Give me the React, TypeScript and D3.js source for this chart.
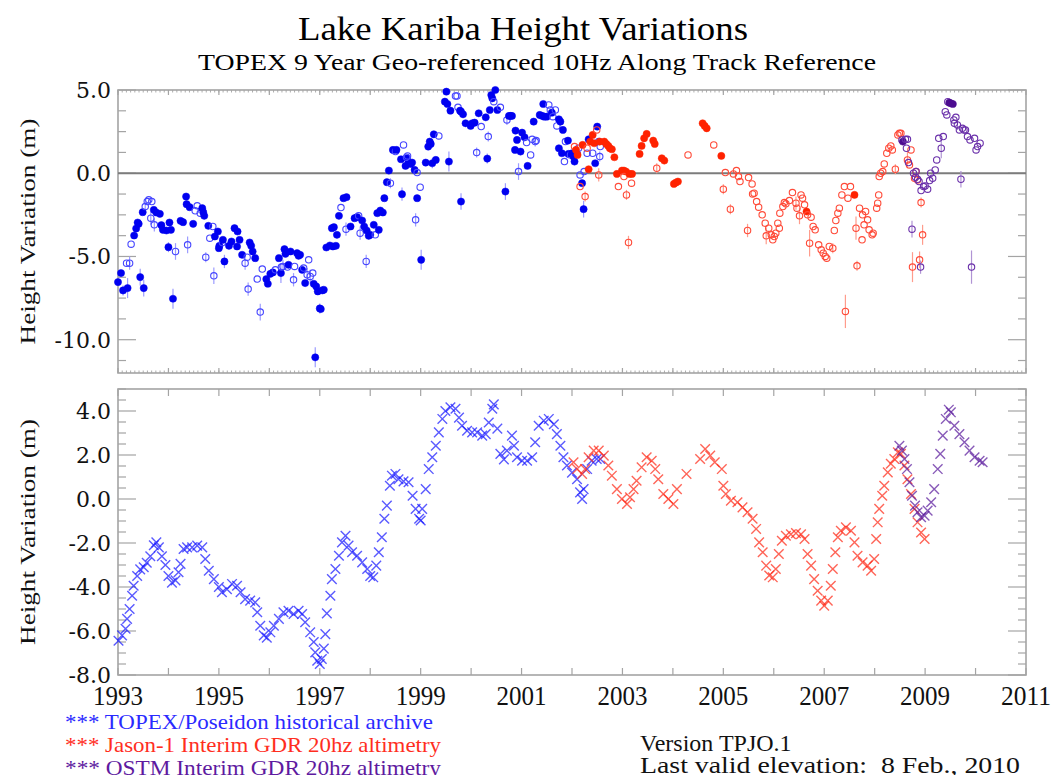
import React, { useRef, useEffect } from 'react';
import * as d3 from 'd3';

// [decimal year, height (m), filled (1) / open (0), error half-length (m)]
type Obs = [number, number, number, number];

const topexObs: Obs[] = [
  [1993.0, -6.54, 1, 0], [1993.06, -6.0, 1, 0], [1993.1, -7.04, 1, 0.3], [1993.19, -6.9, 1, 0.6],
  [1993.17, -5.4, 0, 0], [1993.23, -5.4, 0, 0.4], [1993.26, -4.26, 0, 0], [1993.32, -3.74, 1, 0],
  [1993.36, -3.32, 1, 0], [1993.39, -2.96, 1, 0], [1993.41, -3.04, 1, 0], [1993.44, -6.24, 1, 0.5],
  [1993.49, -2.34, 1, 0], [1993.51, -6.9, 1, 0.5], [1993.54, -2.0, 0, 0.3], [1993.58, -1.7, 0, 0],
  [1993.61, -1.6, 0, 0], [1993.67, -1.7, 0, 0], [1993.65, -2.7, 0, 0.4], [1993.72, -3.1, 0, 0.4],
  [1993.71, -2.2, 1, 0], [1993.76, -2.36, 1, 0], [1993.83, -2.44, 1, 0], [1993.86, -3.12, 1, 0],
  [1993.89, -3.4, 1, 0], [1993.96, -3.44, 1, 0], [1994.0, -4.44, 1, 0.3], [1994.02, -2.96, 1, 0],
  [1994.05, -3.4, 1, 0], [1994.09, -7.54, 1, 0.6], [1994.14, -4.7, 0, 0.5], [1994.24, -2.86, 1, 0],
  [1994.29, -2.94, 1, 0], [1994.35, -1.4, 1, 0], [1994.36, -1.86, 1, 0], [1994.38, -4.3, 0, 0.5],
  [1994.42, -2.04, 1, 0], [1994.49, -3.04, 1, 0], [1994.57, -1.96, 0, 0], [1994.53, -2.26, 0, 0],
  [1994.63, -2.4, 0, 0], [1994.67, -2.1, 1, 0], [1994.69, -2.34, 1, 0], [1994.71, -2.56, 1, 0],
  [1994.74, -5.04, 0, 0.3], [1994.79, -3.16, 1, 0], [1994.82, -3.9, 0, 0], [1994.88, -3.2, 0, 0],
  [1994.9, -6.16, 0, 0.5], [1994.92, -3.8, 1, 0], [1994.98, -3.5, 1, 0], [1995.0, -4.5, 1, 0],
  [1995.01, -4.36, 1, 0], [1995.07, -4.16, 0, 0], [1995.08, -4.0, 1, 0], [1995.11, -5.3, 1, 0.4],
  [1995.2, -4.36, 1, 0], [1995.25, -4.1, 1, 0], [1995.31, -3.3, 1, 0], [1995.37, -3.5, 1, 0],
  [1995.36, -4.4, 1, 0], [1995.41, -4.0, 1, 0], [1995.46, -4.9, 1, 0], [1995.52, -5.4, 0, 0.4],
  [1995.56, -5.04, 0, 0], [1995.58, -6.96, 0, 0.4], [1995.61, -4.16, 1, 0], [1995.64, -4.36, 1, 0],
  [1995.67, -4.7, 1, 0], [1995.72, -5.1, 1, 0], [1995.76, -6.36, 0, 0], [1995.82, -8.34, 0, 0.5],
  [1995.86, -5.76, 0, 0], [1995.94, -6.36, 1, 0], [1995.97, -6.64, 1, 0], [1996.02, -6.04, 1, 0],
  [1996.07, -5.96, 1, 0], [1996.12, -5.8, 0, 0], [1996.19, -5.1, 1, 0], [1996.23, -6.0, 1, 0.6],
  [1996.24, -5.64, 0, 0], [1996.27, -5.6, 0, 0.4], [1996.3, -4.56, 1, 0], [1996.32, -4.84, 1, 0],
  [1996.36, -5.64, 0, 0], [1996.38, -5.5, 1, 0], [1996.42, -4.7, 1, 0], [1996.48, -6.4, 0, 0.4],
  [1996.5, -5.6, 0, 0], [1996.55, -4.8, 1, 0], [1996.58, -4.96, 1, 0], [1996.61, -4.9, 1, 0],
  [1996.65, -5.8, 1, 0], [1996.68, -5.7, 0, 0], [1996.71, -6.6, 1, 0], [1996.75, -6.1, 0, 0.4],
  [1996.78, -5.2, 0, 0], [1996.81, -6.2, 0, 0.4], [1996.86, -6.0, 0, 0], [1996.88, -6.64, 1, 0],
  [1996.91, -11.06, 1, 0.6], [1996.93, -6.8, 1, 0], [1996.96, -7.1, 1, 0], [1997.0, -8.12, 1, 0.3],
  [1997.02, -8.16, 1, 0], [1997.05, -7.04, 1, 0], [1997.08, -7.0, 1, 0], [1997.13, -4.46, 1, 0],
  [1997.2, -4.34, 1, 0], [1997.24, -3.3, 1, 0], [1997.26, -4.4, 1, 0], [1997.28, -3.24, 1, 0],
  [1997.32, -4.36, 1, 0], [1997.34, -3.7, 1, 0], [1997.38, -2.56, 1, 0], [1997.42, -2.06, 0, 0],
  [1997.47, -1.5, 1, 0], [1997.53, -1.44, 1, 0], [1997.52, -3.36, 0, 0.4], [1997.61, -3.2, 1, 0],
  [1997.69, -2.7, 1, 0], [1997.74, -2.64, 1, 0], [1997.77, -2.56, 0, 0], [1997.8, -3.6, 0, 0.4],
  [1997.84, -2.84, 1, 0], [1997.88, -3.2, 1, 0], [1997.92, -5.3, 0, 0.4], [1997.93, -3.44, 1, 0],
  [1997.97, -3.76, 1, 0], [1998.0, -3.7, 1, 0], [1998.07, -3.1, 1, 0], [1998.1, -3.7, 0, 0],
  [1998.14, -2.4, 1, 0], [1998.17, -3.4, 1, 0], [1998.2, -2.24, 1, 0], [1998.25, -2.36, 1, 0],
  [1998.28, -1.5, 1, 0], [1998.33, -0.54, 1, 0], [1998.37, 0.16, 1, 0], [1998.4, -0.6, 0, 0.3],
  [1998.45, 1.4, 1, 0], [1998.5, 1.3, 0, 0], [1998.52, 1.4, 1, 0], [1998.61, 0.84, 1, 0],
  [1998.63, -1.26, 1, 0.4], [1998.66, 1.7, 0, 0], [1998.7, 0.44, 1, 0], [1998.73, 0.9, 1, 0],
  [1998.76, 0.6, 1, 0], [1998.74, 1.04, 0, 0], [1998.72, 0.96, 0, 0], [1998.8, 0.56, 1, 0],
  [1998.83, 0.64, 1, 0], [1998.88, 0.2, 1, 0], [1998.93, 0.04, 0, 0], [1998.93, -1.5, 1, 0],
  [1998.9, -2.8, 0, 0.4], [1998.99, -0.84, 0, 0], [1999.01, -5.2, 1, 0.6], [1999.1, 0.64, 1, 0],
  [1999.15, 1.6, 1, 0], [1999.18, 1.9, 1, 0], [1999.2, 1.76, 1, 0], [1999.23, 0.6, 1, 0.3],
  [1999.26, 2.34, 1, 0], [1999.3, 0.8, 1, 0], [1999.36, 2.24, 0, 0], [1999.51, 4.9, 1, 0],
  [1999.48, 4.3, 1, 0], [1999.53, 4.16, 1, 0], [1999.56, 0.7, 1, 0.6], [1999.59, 3.76, 1, 0],
  [1999.69, 4.64, 0, 0], [1999.72, 4.64, 0, 0], [1999.74, 3.96, 0, 0], [1999.78, 3.76, 1, 0],
  [1999.8, 3.7, 1, 0], [1999.84, 3.54, 1, 0], [1999.8, -1.7, 1, 0.5], [1999.89, 3.0, 1, 0],
  [1999.99, 2.84, 1, 0], [2000.02, 3.0, 1, 0], [2000.07, 3.04, 1, 0], [2000.11, 1.24, 0, 0.3],
  [2000.15, 3.6, 1, 0], [2000.2, 2.8, 0, 0], [2000.29, 3.36, 1, 0], [2000.32, 0.88, 1, 0.3],
  [2000.34, 2.2, 0, 0.3], [2000.37, 3.8, 1, 0], [2000.4, 4.7, 1, 0], [2000.42, 4.5, 1, 0],
  [2000.45, 4.3, 0, 0], [2000.48, 5.0, 1, 0], [2000.52, 3.8, 1, 0], [2000.58, 3.96, 0, 0],
  [2000.68, -1.1, 1, 0.5], [2000.71, 3.2, 0, 0.3], [2000.75, 3.44, 1, 0], [2000.78, 3.44, 1, 0],
  [2000.81, 3.44, 1, 0], [2000.88, 2.56, 1, 0], [2000.91, 2.0, 1, 0], [2000.87, 1.4, 1, 0],
  [2000.94, 0.1, 0, 0.5], [2000.98, 1.3, 1, 0], [2001.01, 2.44, 1, 0], [2001.06, 2.16, 1, 0],
  [2001.1, 1.84, 0, 0], [2001.12, 0.44, 1, 0], [2001.18, 1.1, 0, 0], [2001.21, 2.04, 0, 0],
  [2001.24, 3.1, 1, 0], [2001.27, 1.9, 0, 0.3], [2001.29, 1.96, 0, 0], [2001.36, 3.5, 1, 0],
  [2001.41, 3.44, 1, 0], [2001.43, 4.16, 1, 0], [2001.45, 3.4, 1, 0], [2001.5, 3.4, 1, 0],
  [2001.54, 4.1, 0, 0], [2001.57, 3.8, 0, 0], [2001.6, 3.64, 1, 0], [2001.62, 3.4, 0, 0],
  [2001.67, 3.8, 0, 0], [2001.7, 2.84, 0, 0], [2001.74, 3.24, 1, 0], [2001.77, 3.1, 1, 0],
  [2001.82, 2.6, 1, 0], [2001.74, 1.5, 1, 0], [2001.8, 1.2, 1, 0], [2001.85, 0.7, 0, 0],
  [2001.87, 1.9, 0, 0], [2001.92, 1.96, 1, 0], [2001.93, 1.16, 1, 0], [2001.97, 1.1, 0, 0],
  [2002.0, 1.2, 1, 0], [2002.03, 1.0, 1, 0], [2002.05, 0.7, 1, 0], [2002.1, 1.16, 1, 0],
  [2002.13, 1.5, 0, 0], [2002.16, -0.1, 0, 0], [2002.2, -0.6, 1, 0], [2002.23, -2.16, 1, 0.5],
  [2002.24, 0.1, 0, 0], [2002.3, 1.2, 0, 0], [2002.33, 2.04, 1, 0], [2002.41, 1.2, 0, 0],
  [2002.46, 0.6, 1, 0], [2002.5, 2.8, 1, 0], [2002.53, 1.9, 0, 0], [2002.55, 1.0, 0, 0.3],
  [2002.56, 1.6, 0, 0],
];

const jasonObs: Obs[] = [
  [2002.05, 1.6, 0, 0], [2002.08, 1.4, 1, 0], [2002.11, 1.1, 1, 0], [2002.16, -0.8, 0, 0],
  [2002.21, 1.7, 1, 0], [2002.26, -1.4, 0, 0.3], [2002.3, 1.5, 0, 0], [2002.33, 0.24, 1, 0],
  [2002.36, 1.9, 1, 0], [2002.41, 2.3, 1, 0], [2002.44, 1.8, 1, 0], [2002.49, 2.6, 0, 0],
  [2002.53, -0.1, 0, 0.4], [2002.55, 1.9, 1, 0], [2002.64, 1.9, 1, 0], [2002.68, 1.76, 1, 0],
  [2002.72, 1.64, 1, 0], [2002.75, 1.5, 1, 0], [2002.79, 1.44, 1, 0], [2002.84, 0.96, 1, 0],
  [2002.89, -0.04, 1, 0], [2002.92, -0.8, 0, 0], [2002.99, 0.16, 1, 0], [2003.03, 0.16, 1, 0],
  [2003.07, 0.1, 1, 0], [2003.03, -0.2, 0, 0], [2003.08, -1.3, 0, 0.3], [2003.12, -4.16, 0, 0.4],
  [2003.14, -0.04, 1, 0], [2003.18, -0.6, 0, 0], [2003.19, -0.04, 1, 0], [2003.34, 1.16, 1, 0],
  [2003.38, 1.64, 1, 0], [2003.43, 2.1, 1, 0], [2003.48, 2.36, 1, 0], [2003.61, 1.96, 1, 0],
  [2003.64, 1.76, 1, 0], [2003.68, 0.3, 0, 0.3], [2003.78, 0.9, 1, 0], [2003.83, 0.76, 1, 0],
  [2004.02, -0.64, 1, 0], [2004.06, -0.56, 1, 0], [2004.1, -0.5, 1, 0], [2004.3, 1.1, 0, 0],
  [2004.59, 3.0, 1, 0], [2004.63, 2.84, 1, 0], [2004.67, 2.7, 1, 0], [2004.81, 1.7, 0, 0],
  [2004.96, 1.04, 1, 0], [2005.0, -0.96, 0, 0.3], [2005.04, 0.04, 0, 0], [2005.14, -2.16, 0, 0.3],
  [2005.2, -0.04, 0, 0], [2005.26, 0.16, 0, 0], [2005.3, -0.2, 0, 0], [2005.33, -0.5, 0, 0],
  [2005.48, -3.44, 0, 0.4], [2005.5, -0.26, 0, 0], [2005.57, -0.64, 0, 0], [2005.58, -1.24, 0, 0],
  [2005.61, -1.2, 0, 0], [2005.66, -1.7, 0, 0], [2005.7, -2.04, 0, 0], [2005.77, -2.5, 0, 0],
  [2005.83, -3.0, 0, 0], [2005.85, -3.76, 0, 0.5], [2005.9, -3.3, 0, 0], [2005.95, -3.7, 0, 0],
  [2005.98, -4.0, 0, 0], [2006.01, -3.8, 0, 0], [2006.04, -3.6, 0, 0], [2006.08, -3.0, 0, 0],
  [2006.11, -3.3, 0, 0], [2006.12, -2.4, 0, 0], [2006.18, -2.0, 0, 0], [2006.21, -1.76, 0, 0],
  [2006.24, -1.84, 0, 0], [2006.31, -1.64, 0, 0], [2006.37, -1.16, 0, 0], [2006.44, -1.8, 0, 0.4],
  [2006.46, -2.1, 0, 0], [2006.51, -2.56, 0, 0.5], [2006.54, -1.3, 0, 0], [2006.57, -1.5, 0, 0],
  [2006.61, -1.9, 0, 0], [2006.65, -2.3, 1, 0], [2006.67, -2.5, 0, 0], [2006.71, -4.2, 0, 0.8],
  [2006.74, -2.64, 0, 0], [2006.78, -3.2, 0, 0], [2006.82, -3.4, 0, 0], [2006.89, -4.3, 0, 0],
  [2006.94, -4.6, 0, 0], [2006.98, -4.8, 0, 0], [2007.02, -5.0, 0, 0], [2007.05, -5.1, 0, 0],
  [2007.1, -4.4, 0, 0], [2007.17, -4.5, 0, 0.3], [2007.2, -3.44, 0, 0], [2007.23, -2.84, 0, 0],
  [2007.27, -2.4, 0, 0], [2007.3, -2.1, 0, 0], [2007.35, -1.3, 0, 0], [2007.4, -0.8, 0, 0],
  [2007.42, -8.3, 0, 1.0], [2007.47, -1.5, 0, 0], [2007.52, -0.8, 0, 0], [2007.6, -1.3, 1, 0],
  [2007.63, -3.3, 0, 0.7], [2007.65, -5.56, 0, 0.3], [2007.7, -2.1, 0, 0], [2007.75, -4.0, 0, 0],
  [2007.76, -2.5, 0, 0], [2007.79, -3.1, 0, 0], [2007.82, -2.3, 0, 0], [2007.86, -2.8, 0, 0],
  [2007.89, -3.4, 0, 0], [2007.95, -3.7, 0, 0], [2007.97, -3.6, 0, 0], [2008.04, -2.1, 0, 0],
  [2008.06, -1.8, 0, 0], [2008.08, -1.3, 0, 0], [2008.09, -0.2, 0, 0], [2008.12, 0.0, 0, 0],
  [2008.16, 0.1, 0, 0], [2008.19, 0.56, 0, 0], [2008.24, 1.2, 0, 0], [2008.28, 1.5, 0, 0],
  [2008.32, 1.64, 0, 0], [2008.35, 1.4, 0, 0], [2008.41, 0.24, 0, 0.3], [2008.46, 2.3, 0, 0],
  [2008.49, 2.4, 0, 0], [2008.52, 2.4, 0, 0], [2008.65, 0.8, 0, 0.5], [2008.69, 0.5, 0, 0],
  [2008.72, 1.4, 0, 0], [2008.75, -5.64, 0, 0.9], [2008.79, -0.3, 0, 0], [2008.82, 0.1, 0, 0],
  [2008.85, -0.4, 0, 0], [2008.89, -5.2, 0, 0.5], [2008.92, -1.76, 0, 0.3], [2008.95, -3.7, 0, 0.6],
];

const ostmObs: Obs[] = [
  [2008.54, 2.0, 0, 0], [2008.56, 1.9, 1, 0], [2008.61, 2.04, 0, 0], [2008.65, 2.04, 0, 0],
  [2008.63, 1.5, 0, 0], [2008.67, 0.64, 0, 0], [2008.74, -3.36, 0, 0.5], [2008.77, 0.0, 0, 0],
  [2008.82, 0.1, 0, 0], [2008.81, -0.24, 0, 0], [2008.85, -0.36, 0, 0], [2008.88, -0.5, 0, 0],
  [2008.91, -5.64, 0, 0.4], [2008.92, -1.04, 0, 0], [2008.97, -0.8, 0, 0], [2009.0, -0.76, 0, 0],
  [2009.05, -0.96, 0, 0], [2009.09, -0.44, 0, 0], [2009.11, 0.0, 0, 0], [2009.15, -0.3, 0, 0],
  [2009.2, 0.2, 0, 0], [2009.23, 0.8, 0, 0], [2009.27, 2.1, 0, 0], [2009.32, 1.5, 0, 0.6],
  [2009.36, 2.2, 0, 0], [2009.4, 3.7, 0, 0], [2009.43, 3.5, 0, 0], [2009.45, 4.3, 0, 0],
  [2009.48, 4.24, 1, 0], [2009.51, 4.2, 1, 0], [2009.55, 4.16, 1, 0], [2009.57, 3.2, 0, 0],
  [2009.58, 3.0, 0, 0], [2009.61, 3.36, 0, 0], [2009.64, 2.9, 0, 0.3], [2009.68, 2.6, 0, 0],
  [2009.71, -0.36, 0, 0.5], [2009.74, 2.7, 0, 0], [2009.77, 2.6, 0, 0], [2009.8, 2.6, 0, 0],
  [2009.84, 2.2, 0, 0], [2009.89, 2.0, 0, 0], [2009.92, -5.64, 0, 1.0], [2009.98, 2.1, 0, 0],
  [2010.01, 1.4, 0, 0], [2010.04, 1.6, 0, 0], [2010.09, 1.8, 0, 0],
];

// smoothed series, lower panel: [decimal year, height (m)]
const topexSmooth: [number, number][] = [
  [1993.01, -6.44], [1993.08, -6.2], [1993.15, -5.9], [1993.18, -5.45], [1993.23, -5.0], [1993.28, -4.4],
  [1993.31, -3.94], [1993.38, -3.5], [1993.44, -3.2], [1993.51, -3.1], [1993.57, -2.9], [1993.64, -2.6],
  [1993.71, -2.1], [1993.76, -1.97], [1993.81, -2.2], [1993.87, -2.6], [1993.94, -3.0], [1994.0, -3.5],
  [1994.07, -3.8], [1994.14, -3.7], [1994.2, -3.33], [1994.24, -2.95], [1994.3, -2.27], [1994.37, -2.2],
  [1994.47, -2.2], [1994.57, -2.12], [1994.67, -2.2], [1994.73, -2.73], [1994.8, -3.26], [1994.9, -3.64],
  [1995.0, -4.0], [1995.06, -4.24], [1995.16, -4.1], [1995.26, -3.86], [1995.36, -3.94], [1995.43, -4.24],
  [1995.52, -4.55], [1995.62, -4.62], [1995.72, -4.7], [1995.76, -5.15], [1995.82, -5.76], [1995.89, -6.2],
  [1995.95, -6.3], [1996.02, -6.06], [1996.09, -5.76], [1996.19, -5.45], [1996.28, -5.15], [1996.38, -5.08],
  [1996.48, -5.23], [1996.58, -5.08], [1996.65, -5.23], [1996.71, -5.6], [1996.81, -6.06], [1996.88, -6.5],
  [1996.91, -6.97], [1996.95, -7.35], [1997.0, -7.5], [1997.04, -7.27], [1997.08, -6.8], [1997.11, -6.14],
  [1997.14, -5.2], [1997.21, -4.4], [1997.24, -3.64], [1997.31, -3.18], [1997.38, -2.58], [1997.44, -1.97],
  [1997.51, -1.67], [1997.57, -2.12], [1997.64, -2.42], [1997.74, -2.58], [1997.84, -2.88], [1997.94, -3.18],
  [1998.0, -3.5], [1998.06, -3.56], [1998.12, -3.03], [1998.17, -2.42], [1998.23, -1.74], [1998.28, -0.9],
  [1998.33, -0.3], [1998.39, 0.6], [1998.43, 1.06], [1998.5, 1.14], [1998.56, 0.9], [1998.66, 0.8],
  [1998.76, 0.76], [1998.84, 0.15], [1998.9, -0.45], [1998.97, -0.9], [1999.0, -0.98], [1999.03, -0.45],
  [1999.1, 0.45], [1999.16, 1.36], [1999.23, 1.9], [1999.3, 2.42], [1999.36, 3.03], [1999.43, 3.64],
  [1999.49, 4.0], [1999.59, 4.17], [1999.69, 4.1], [1999.76, 3.7], [1999.82, 3.33], [1999.92, 3.1],
  [2000.02, 3.03], [2000.12, 3.03], [2000.22, 2.88], [2000.29, 2.95], [2000.35, 3.48], [2000.42, 4.1],
  [2000.45, 4.3], [2000.52, 3.2], [2000.58, 2.05], [2000.65, 1.8], [2000.71, 2.2], [2000.81, 2.88],
  [2000.85, 2.42], [2000.91, 1.9], [2001.01, 1.74], [2001.11, 1.74], [2001.21, 1.9], [2001.27, 2.58],
  [2001.34, 3.33], [2001.44, 3.56], [2001.54, 3.64], [2001.64, 3.4], [2001.7, 2.95], [2001.77, 2.42],
  [2001.83, 1.9], [2001.9, 1.52], [2002.0, 1.2], [2002.1, 0.9], [2002.16, 0.3], [2002.2, 0.0],
  [2002.23, 0.45], [2002.3, 1.36], [2002.39, 1.74], [2002.49, 1.82], [2002.56, 1.82],
];

const jasonSmooth: [number, number][] = [
  [2002.03, 1.67], [2002.1, 1.36], [2002.2, 1.14], [2002.26, 1.36], [2002.33, 1.9], [2002.43, 2.2],
  [2002.53, 2.2], [2002.63, 1.97], [2002.72, 1.52], [2002.79, 1.06], [2002.89, 0.45], [2002.99, 0.0],
  [2003.09, -0.23], [2003.15, 0.08], [2003.22, 0.45], [2003.28, 0.83], [2003.38, 1.44], [2003.48, 1.9],
  [2003.58, 1.74], [2003.65, 1.36], [2003.71, 0.9], [2003.81, 0.23], [2003.91, 0.0], [2004.01, -0.23],
  [2004.08, 0.45], [2004.27, 1.14], [2004.54, 1.82], [2004.64, 2.27], [2004.74, 1.97], [2004.83, 1.67],
  [2004.97, 1.36], [2005.0, 0.6], [2005.05, 0.23], [2005.15, -0.08], [2005.28, -0.15], [2005.38, -0.38],
  [2005.48, -0.6], [2005.58, -0.9], [2005.65, -1.36], [2005.71, -1.97], [2005.78, -2.42], [2005.85, -3.03],
  [2005.91, -3.48], [2005.98, -3.56], [2006.04, -3.18], [2006.1, -2.5], [2006.16, -1.9], [2006.24, -1.67],
  [2006.34, -1.6], [2006.44, -1.55], [2006.54, -1.6], [2006.61, -1.82], [2006.67, -2.5], [2006.74, -3.03],
  [2006.8, -3.64], [2006.87, -4.17], [2006.94, -4.62], [2007.0, -4.85], [2007.07, -4.62], [2007.13, -3.94],
  [2007.17, -3.18], [2007.22, -2.42], [2007.27, -1.74], [2007.33, -1.44], [2007.43, -1.29], [2007.53, -1.44],
  [2007.6, -1.97], [2007.66, -2.58], [2007.76, -2.88], [2007.86, -3.03], [2007.93, -3.26], [2007.99, -2.73],
  [2008.03, -1.82], [2008.06, -1.06], [2008.09, -0.45], [2008.15, 0.15], [2008.19, 0.6], [2008.26, 1.21],
  [2008.32, 1.6], [2008.39, 1.82], [2008.46, 2.12], [2008.52, 2.05], [2008.59, 1.52], [2008.65, 0.9],
  [2008.72, 0.23], [2008.79, -0.45], [2008.85, -1.06], [2008.92, -1.52], [2008.99, -1.82],
];

const ostmSmooth: [number, number][] = [
  [2008.49, 2.42], [2008.54, 2.2], [2008.59, 1.82], [2008.64, 1.36], [2008.69, 0.76], [2008.74, 0.15],
  [2008.8, -0.3], [2008.85, -0.6], [2008.92, -0.83], [2008.99, -0.76], [2009.05, -0.53], [2009.12, -0.15],
  [2009.18, 0.45], [2009.25, 1.36], [2009.3, 2.05], [2009.35, 2.88], [2009.41, 3.64], [2009.47, 4.06],
  [2009.51, 3.94], [2009.58, 3.33], [2009.68, 2.95], [2009.78, 2.58], [2009.88, 2.2], [2009.98, 1.9],
  [2010.08, 1.74], [2010.14, 1.67],
];

const yearLabels = [1993, 1995, 1997, 1999, 2001, 2003, 2005, 2007, 2009, 2011];
const topMajor = [-10, -5, 0, 5];
const botMajor = [-8, -6, -4, -2, 0, 2, 4];

const legendLines = [
  { text: '*** TOPEX/Poseidon historical archive', color: '#2a2aff', width: 368 },
  { text: '*** Jason-1 Interim GDR 20hz altimetry', color: '#ff2e1e', width: 376 },
  { text: '*** OSTM  Interim GDR 20hz altimetry', color: '#5e1aa0', width: 376 },
];

const seriesStyle = [
  { fill: '#0000f0', open: '#4646ff', err: '#9c9cff', cross: '#1a1aff' },
  { fill: '#ff2200', open: '#ff4a38', err: '#ff9c8c', cross: '#ff2a18' },
  { fill: '#4c0c90', open: '#6a30aa', err: '#b094d4', cross: '#5a1a9c' },
];

export default function App() {
  const svgRef = useRef<SVGSVGElement>(null);

  useEffect(() => {
    const svg = d3.select(svgRef.current);
    svg.selectAll('*').remove();

    const width = 1054;
    const height = 775;
    const left = 118;
    const right = 1026;
    const serif = '"Liberation Serif", "Times New Roman", serif';
    const tickFont = '"DejaVu Serif", serif';
    const axisCol = '#a4a4a4';

    const x = d3.scaleLinear().domain([1993, 2011]).range([left, right]);
    const yTop = d3.scaleLinear().domain([-12, 5]).range([373, 90]);
    const yBot = d3.scaleLinear().domain([-8, 5]).range([675, 389]);

    svg.append('rect').attr('width', width).attr('height', height).attr('fill', '#fff');

    // Titles
    svg.append('text')
      .attr('x', 523).attr('y', 40)
      .attr('text-anchor', 'middle')
      .attr('font-family', serif).attr('font-size', 34)
      .attr('textLength', 450).attr('lengthAdjust', 'spacingAndGlyphs')
      .text('Lake Kariba Height Variations');
    svg.append('text')
      .attr('x', 537).attr('y', 70)
      .attr('text-anchor', 'middle')
      .attr('font-family', serif).attr('font-size', 24)
      .attr('textLength', 678).attr('lengthAdjust', 'spacingAndGlyphs')
      .text('TOPEX 9 Year Geo-referenced 10Hz Along Track Reference');

    // Panel frame with ticks
    const frame = (y: d3.ScaleLinear<number, number>, majors: number[], minorStep: number, monthly: boolean) => {
      const [y0, y1] = y.range();
      const [d0, d1] = y.domain();
      const g = svg.append('g').attr('stroke', axisCol).attr('stroke-width', 1.2);

      g.append('rect')
        .attr('x', left).attr('y', y1)
        .attr('width', right - left).attr('height', y0 - y1)
        .attr('fill', 'none').attr('stroke-width', 1.6);

      const minors = d3.range(Math.ceil(d0 / minorStep) * minorStep, d1 + 1e-6, minorStep)
        .filter(v => !majors.some(m => Math.abs(m - v) < 1e-6));
      const yTicks = [
        ...minors.map(v => ({ v, len: 8 })),
        ...majors.map(v => ({ v, len: 18 })),
      ];
      yTicks.forEach(t => {
        const py = y(t.v);
        g.append('line').attr('x1', left).attr('x2', left + t.len).attr('y1', py).attr('y2', py);
        g.append('line').attr('x1', right).attr('x2', right - t.len).attr('y1', py).attr('y2', py);
      });

      const years = d3.range(1993, 2012);
      years.forEach(yr => {
        const px = x(yr);
        const len = monthly ? 5 : 7;
        g.append('line').attr('x1', px).attr('x2', px).attr('y1', y0).attr('y2', y0 - len);
        g.append('line').attr('x1', px).attr('x2', px).attr('y1', y1).attr('y2', y1 + len);
      });
      if (monthly) {
        d3.range(1993, 2011, 1 / 12).forEach(m => {
          const px = x(m);
          g.append('line').attr('x1', px).attr('x2', px).attr('y1', y0).attr('y2', y0 - 2.5).attr('stroke-width', 0.9);
          g.append('line').attr('x1', px).attr('x2', px).attr('y1', y1).attr('y2', y1 + 2.5).attr('stroke-width', 0.9);
        });
      }

      svg.append('g').selectAll('text')
        .data(majors)
        .enter()
        .append('text')
        .attr('x', 111)
        .attr('y', d => y(d))
        .attr('dy', '0.36em')
        .attr('text-anchor', 'end')
        .attr('font-family', tickFont)
        .attr('font-size', 22)
        .attr('fill', '#111')
        .text(d => d.toFixed(1));
    };

    frame(yTop, topMajor, 1.25, true);
    frame(yBot, botMajor, 0.5, false);

    // zero line, upper panel
    svg.append('line')
      .attr('x1', left).attr('x2', right)
      .attr('y1', yTop(0)).attr('y2', yTop(0))
      .attr('stroke', '#7c7c7c').attr('stroke-width', 2.2);

    // Upper panel: observations with error bars
    const upper = svg.append('g');
    [topexObs, jasonObs, ostmObs].forEach((obs, i) => {
      const st = seriesStyle[i];
      const g = upper.append('g');
      g.selectAll('line')
        .data(obs.filter(d => d[3] > 0))
        .enter()
        .append('line')
        .attr('x1', d => x(d[0])).attr('x2', d => x(d[0]))
        .attr('y1', d => yTop(d[1] - d[3])).attr('y2', d => yTop(d[1] + d[3]))
        .attr('stroke', st.err).attr('stroke-width', 1.2);
      g.selectAll('circle')
        .data(obs)
        .enter()
        .append('circle')
        .attr('cx', d => x(d[0]))
        .attr('cy', d => yTop(d[1]))
        .attr('r', d => (d[2] ? 3.6 : 3.2))
        .attr('fill', d => (d[2] ? st.fill : 'none'))
        .attr('stroke', d => (d[2] ? st.fill : st.open))
        .attr('stroke-width', d => (d[2] ? 0.5 : 1.1));
    });

    // Lower panel: smoothed series drawn as crosses
    const lower = svg.append('g');
    const s = 4.8;
    [topexSmooth, jasonSmooth, ostmSmooth].forEach((pts, i) => {
      const st = seriesStyle[i];
      lower.append('g')
        .selectAll('path')
        .data(pts)
        .enter()
        .append('path')
        .attr('d', d => {
          const px = x(d[0]);
          const py = yBot(d[1]);
          return `M${px - s},${py - s}L${px + s},${py + s}M${px - s},${py + s}L${px + s},${py - s}`;
        })
        .attr('stroke', st.cross)
        .attr('stroke-width', 1.4)
        .attr('stroke-opacity', 0.72)
        .attr('fill', 'none');
    });

    // Year labels
    svg.append('g').selectAll('text')
      .data(yearLabels)
      .enter()
      .append('text')
      .attr('x', d => x(d))
      .attr('y', 705)
      .attr('text-anchor', 'middle')
      .attr('font-family', serif)
      .attr('font-size', 28)
      .attr('textLength', 50)
      .attr('lengthAdjust', 'spacingAndGlyphs')
      .attr('fill', '#111')
      .text(d => String(d));

    // Y axis titles
    [yTop, yBot].forEach(y => {
      const [y0, y1] = y.range();
      const cy = (y0 + y1) / 2;
      svg.append('text')
        .attr('transform', `translate(35,${cy}) rotate(-90)`)
        .attr('text-anchor', 'middle')
        .attr('font-family', serif)
        .attr('font-size', 22)
        .attr('textLength', 226)
        .attr('lengthAdjust', 'spacingAndGlyphs')
        .attr('fill', '#111')
        .text('Height Variation (m)');
    });

    // Legend
    svg.append('g').selectAll('text')
      .data(legendLines)
      .enter()
      .append('text')
      .attr('x', 65)
      .attr('y', (d, i) => 729 + i * 23)
      .attr('font-family', serif)
      .attr('font-size', 21)
      .attr('textLength', d => d.width)
      .attr('lengthAdjust', 'spacingAndGlyphs')
      .attr('fill', d => d.color)
      .text(d => d.text);

    // Version notes
    svg.append('text')
      .attr('x', 640).attr('y', 751)
      .attr('font-family', serif).attr('font-size', 24)
      .attr('fill', '#111')
      .text('Version TPJO.1');
    svg.append('text')
      .attr('x', 640).attr('y', 773)
      .attr('font-family', serif).attr('font-size', 24)
      .attr('textLength', 380).attr('lengthAdjust', 'spacingAndGlyphs')
      .attr('fill', '#111')
      .style('white-space', 'pre')
      .text('Last valid elevation:  8 Feb., 2010');
  }, []);

  return (
    <div style={{ position: 'absolute', left: 0, top: 0 }}>
      <svg ref={svgRef} width={1054} height={775} style={{ display: 'block' }} />
    </div>
  );
}
